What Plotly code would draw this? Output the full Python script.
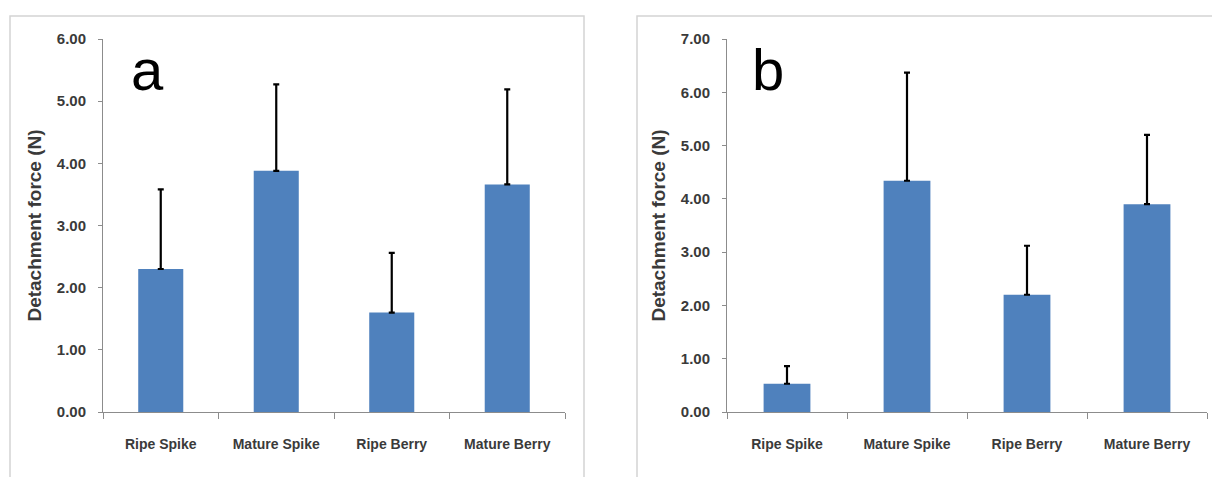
import plotly.graph_objects as go

# Detachment force data for the two panels
categories = ["Ripe Spike", "Mature Spike", "Ripe Berry", "Mature Berry"]

force_a = [2.30, 3.88, 1.60, 3.66]
error_a = [1.28, 1.39, 0.96, 1.53]

force_b = [0.53, 4.34, 2.20, 3.90]
error_b = [0.33, 2.03, 0.92, 1.30]

y_ticks_a = [0, 1, 2, 3, 4, 5, 6]
y_ticks_b = [0, 1, 2, 3, 4, 5, 6, 7]

W, H = 1212, 477
BAR = "#4F81BD"
TXT = "#3a3a3a"
AXIS = "#8c8c8c"
FONT = "Liberation Sans, Arial, sans-serif"


def px(x):
    return x / W


def py(y):
    return 1 - y / H


fig = go.Figure()

for i, (vals, errs) in enumerate([(force_a, error_a), (force_b, error_b)]):
    sfx = "" if i == 0 else "2"
    fig.add_trace(go.Bar(
        x=categories, y=vals,
        marker=dict(color=BAR, line=dict(width=0)),
        error_y=dict(type="data", symmetric=False, array=errs,
                     arrayminus=[0] * len(errs),
                     color="black", thickness=2.2, width=3),
        xaxis="x" + sfx, yaxis="y" + sfx,
        showlegend=False,
    ))

xcommon = dict(
    type="category", showline=True, linecolor=AXIS, linewidth=1,
    ticks="outside", tickson="boundaries", ticklen=6, tickcolor=AXIS,
    tickfont=dict(family=FONT, size=14, color=TXT, weight="bold"),
    ticklabelstandoff=19, showgrid=False, zeroline=False, fixedrange=True,
    automargin=False,
)
ycommon = dict(
    showline=True, linecolor=AXIS, linewidth=1,
    ticks="outside", ticklen=4, tickcolor=AXIS, tickformat=".2f",
    tickfont=dict(family=FONT, size=15, color=TXT, weight="bold"),
    ticklabelstandoff=9, showgrid=False, zeroline=False, fixedrange=True,
    automargin=False,
    title=dict(text="Detachment force (N)",
               font=dict(family=FONT, size=19, color=TXT, weight="bold"),
               standoff=10),
)

y_dom = [py(412), py(39)]

fig.update_layout(
    width=W, height=H, margin=dict(l=0, r=0, t=0, b=0),
    paper_bgcolor="white", plot_bgcolor="white",
    bargap=0.61,
    xaxis=dict(domain=[px(103), px(565)], anchor="y", **xcommon),
    yaxis=dict(domain=y_dom, anchor="x", range=[0, 6],
               tickvals=y_ticks_a, **ycommon),
    xaxis2=dict(domain=[px(727), px(1207)], anchor="y2", **xcommon),
    yaxis2=dict(domain=y_dom, anchor="x2", range=[0, 7],
                tickvals=y_ticks_b, **ycommon),
)

# Panel frames
fig.add_shape(type="rect", xref="paper", yref="paper",
              x0=px(10), x1=px(584), y0=-0.2, y1=py(16),
              line=dict(color="#d4d4d4", width=1.5), layer="below")
fig.add_shape(type="rect", xref="paper", yref="paper",
              x0=px(637), x1=1.2, y0=-0.2, y1=py(16),
              line=dict(color="#d4d4d4", width=1.5), layer="below")

# Panel letters
for letter, x in [("a", 129), ("b", 750)]:
    fig.add_annotation(text=letter, xref="paper", yref="paper",
                       x=px(x), y=py(104), xanchor="left", yanchor="bottom",
                       showarrow=False,
                       font=dict(family=FONT, size=58, color="black"))

fig.write_html("out.html")
